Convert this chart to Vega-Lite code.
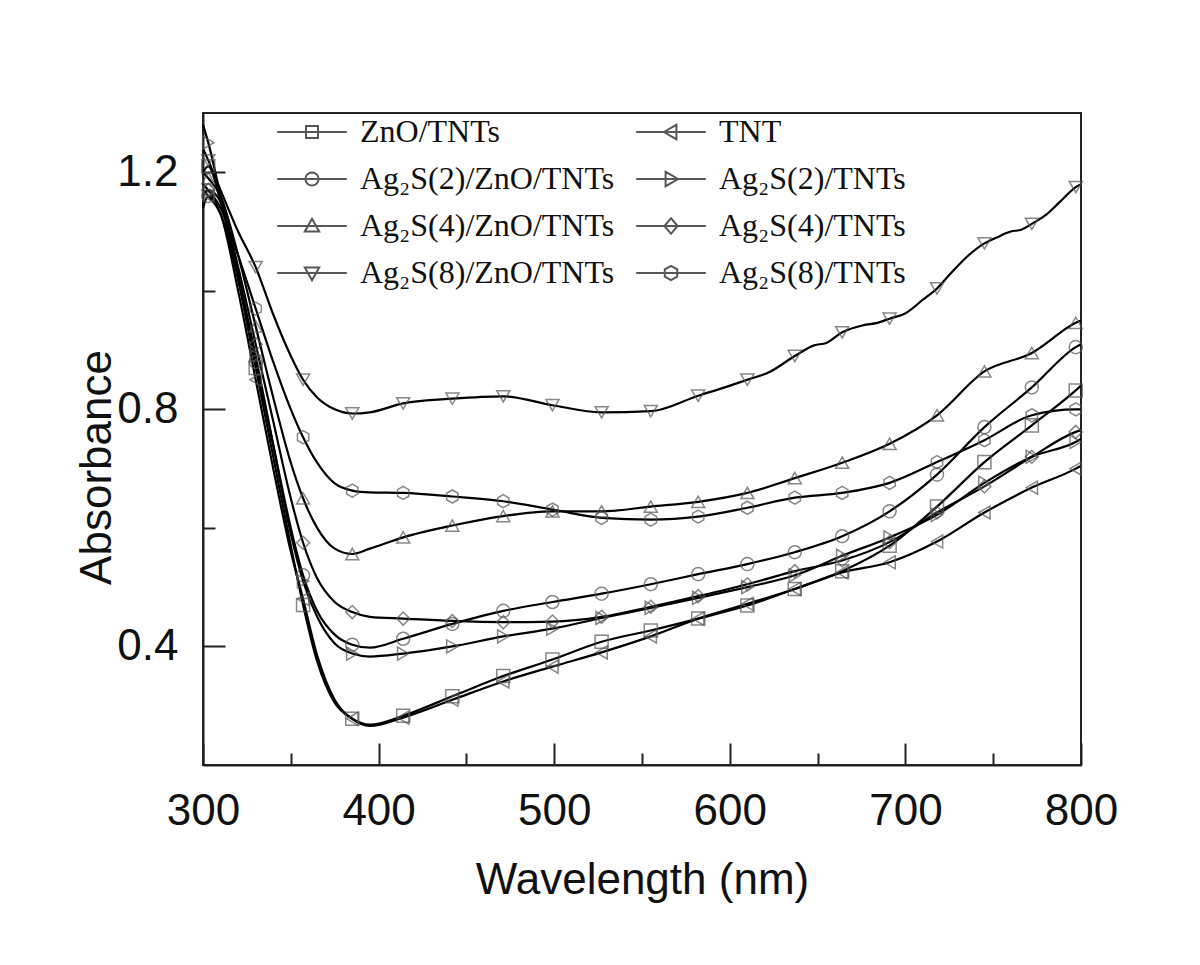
{
  "$schema": "https://vega.github.io/schema/vega-lite/v6.json",
  "width": 878,
  "height": 652,
  "autosize": {"type": "none"},
  "padding": {"left": 203, "top": 113, "right": 119, "bottom": 200},
  "background": "white",
  "config": {
    "view": {"stroke": "#222", "strokeWidth": 2},
    "axis": {"grid": false, "labelFont": "Liberation Sans", "titleFont": "Liberation Sans", "labelColor": "#111", "titleColor": "#111", "titleFontWeight": "normal", "tickColor": "#222", "domainColor": "#222"}
  },
  "datasets": {
    "curves": [
      {"s":"ZnO/TNTs","w":300,"a":1.20},{"s":"ZnO/TNTs","w":303,"a":1.21},{"s":"ZnO/TNTs","w":310,"a":1.15},{"s":"ZnO/TNTs","w":320,"a":1.02},{"s":"ZnO/TNTs","w":330,"a":0.87},{"s":"ZnO/TNTs","w":340,"a":0.72},{"s":"ZnO/TNTs","w":350,"a":0.57},{"s":"ZnO/TNTs","w":357,"a":0.47},{"s":"ZnO/TNTs","w":365,"a":0.375},{"s":"ZnO/TNTs","w":375,"a":0.305},{"s":"ZnO/TNTs","w":385,"a":0.278},{"s":"ZnO/TNTs","w":395,"a":0.268},{"s":"ZnO/TNTs","w":414,"a":0.283},{"s":"ZnO/TNTs","w":442,"a":0.316},{"s":"ZnO/TNTs","w":471,"a":0.35},{"s":"ZnO/TNTs","w":499,"a":0.378},{"s":"ZnO/TNTs","w":527,"a":0.408},{"s":"ZnO/TNTs","w":555,"a":0.427},{"s":"ZnO/TNTs","w":582,"a":0.447},{"s":"ZnO/TNTs","w":610,"a":0.469},{"s":"ZnO/TNTs","w":637,"a":0.497},{"s":"ZnO/TNTs","w":664,"a":0.527},{"s":"ZnO/TNTs","w":691,"a":0.57},{"s":"ZnO/TNTs","w":718,"a":0.636},{"s":"ZnO/TNTs","w":745,"a":0.711},{"s":"ZnO/TNTs","w":772,"a":0.773},{"s":"ZnO/TNTs","w":797,"a":0.832},{"s":"ZnO/TNTs","w":800,"a":0.84},

      {"s":"TNT","w":300,"a":1.14},{"s":"TNT","w":303,"a":1.16},{"s":"TNT","w":310,"a":1.13},{"s":"TNT","w":320,"a":1.00},{"s":"TNT","w":330,"a":0.85},{"s":"TNT","w":340,"a":0.70},{"s":"TNT","w":350,"a":0.56},{"s":"TNT","w":357,"a":0.48},{"s":"TNT","w":365,"a":0.385},{"s":"TNT","w":375,"a":0.31},{"s":"TNT","w":385,"a":0.278},{"s":"TNT","w":395,"a":0.266},{"s":"TNT","w":414,"a":0.28},{"s":"TNT","w":442,"a":0.31},{"s":"TNT","w":471,"a":0.341},{"s":"TNT","w":499,"a":0.366},{"s":"TNT","w":527,"a":0.39},{"s":"TNT","w":555,"a":0.417},{"s":"TNT","w":582,"a":0.447},{"s":"TNT","w":610,"a":0.472},{"s":"TNT","w":637,"a":0.497},{"s":"TNT","w":664,"a":0.525},{"s":"TNT","w":691,"a":0.542},{"s":"TNT","w":718,"a":0.577},{"s":"TNT","w":745,"a":0.626},{"s":"TNT","w":772,"a":0.668},{"s":"TNT","w":797,"a":0.70},{"s":"TNT","w":800,"a":0.705},

      {"s":"Ag₂S(2)/ZnO/TNTs","w":300,"a":1.17},{"s":"Ag₂S(2)/ZnO/TNTs","w":303,"a":1.16},{"s":"Ag₂S(2)/ZnO/TNTs","w":310,"a":1.13},{"s":"Ag₂S(2)/ZnO/TNTs","w":320,"a":1.02},{"s":"Ag₂S(2)/ZnO/TNTs","w":330,"a":0.88},{"s":"Ag₂S(2)/ZnO/TNTs","w":340,"a":0.74},{"s":"Ag₂S(2)/ZnO/TNTs","w":350,"a":0.60},{"s":"Ag₂S(2)/ZnO/TNTs","w":357,"a":0.52},{"s":"Ag₂S(2)/ZnO/TNTs","w":365,"a":0.46},{"s":"Ag₂S(2)/ZnO/TNTs","w":375,"a":0.42},{"s":"Ag₂S(2)/ZnO/TNTs","w":385,"a":0.403},{"s":"Ag₂S(2)/ZnO/TNTs","w":395,"a":0.398},{"s":"Ag₂S(2)/ZnO/TNTs","w":414,"a":0.413},{"s":"Ag₂S(2)/ZnO/TNTs","w":442,"a":0.438},{"s":"Ag₂S(2)/ZnO/TNTs","w":471,"a":0.46},{"s":"Ag₂S(2)/ZnO/TNTs","w":499,"a":0.475},{"s":"Ag₂S(2)/ZnO/TNTs","w":527,"a":0.489},{"s":"Ag₂S(2)/ZnO/TNTs","w":555,"a":0.505},{"s":"Ag₂S(2)/ZnO/TNTs","w":582,"a":0.522},{"s":"Ag₂S(2)/ZnO/TNTs","w":610,"a":0.539},{"s":"Ag₂S(2)/ZnO/TNTs","w":637,"a":0.559},{"s":"Ag₂S(2)/ZnO/TNTs","w":664,"a":0.586},{"s":"Ag₂S(2)/ZnO/TNTs","w":691,"a":0.628},{"s":"Ag₂S(2)/ZnO/TNTs","w":718,"a":0.69},{"s":"Ag₂S(2)/ZnO/TNTs","w":745,"a":0.77},{"s":"Ag₂S(2)/ZnO/TNTs","w":772,"a":0.837},{"s":"Ag₂S(2)/ZnO/TNTs","w":797,"a":0.905},{"s":"Ag₂S(2)/ZnO/TNTs","w":800,"a":0.91},

      {"s":"Ag₂S(2)/TNTs","w":300,"a":1.28},{"s":"Ag₂S(2)/TNTs","w":303,"a":1.25},{"s":"Ag₂S(2)/TNTs","w":310,"a":1.16},{"s":"Ag₂S(2)/TNTs","w":320,"a":1.03},{"s":"Ag₂S(2)/TNTs","w":330,"a":0.89},{"s":"Ag₂S(2)/TNTs","w":340,"a":0.74},{"s":"Ag₂S(2)/TNTs","w":350,"a":0.59},{"s":"Ag₂S(2)/TNTs","w":357,"a":0.51},{"s":"Ag₂S(2)/TNTs","w":365,"a":0.45},{"s":"Ag₂S(2)/TNTs","w":375,"a":0.405},{"s":"Ag₂S(2)/TNTs","w":385,"a":0.388},{"s":"Ag₂S(2)/TNTs","w":395,"a":0.383},{"s":"Ag₂S(2)/TNTs","w":414,"a":0.388},{"s":"Ag₂S(2)/TNTs","w":442,"a":0.40},{"s":"Ag₂S(2)/TNTs","w":471,"a":0.417},{"s":"Ag₂S(2)/TNTs","w":499,"a":0.43},{"s":"Ag₂S(2)/TNTs","w":527,"a":0.448},{"s":"Ag₂S(2)/TNTs","w":555,"a":0.465},{"s":"Ag₂S(2)/TNTs","w":582,"a":0.482},{"s":"Ag₂S(2)/TNTs","w":610,"a":0.50},{"s":"Ag₂S(2)/TNTs","w":637,"a":0.52},{"s":"Ag₂S(2)/TNTs","w":664,"a":0.553},{"s":"Ag₂S(2)/TNTs","w":691,"a":0.584},{"s":"Ag₂S(2)/TNTs","w":718,"a":0.622},{"s":"Ag₂S(2)/TNTs","w":745,"a":0.676},{"s":"Ag₂S(2)/TNTs","w":772,"a":0.72},{"s":"Ag₂S(2)/TNTs","w":797,"a":0.745},{"s":"Ag₂S(2)/TNTs","w":800,"a":0.75},

      {"s":"Ag₂S(4)/ZnO/TNTs","w":300,"a":1.20},{"s":"Ag₂S(4)/ZnO/TNTs","w":303,"a":1.19},{"s":"Ag₂S(4)/ZnO/TNTs","w":310,"a":1.16},{"s":"Ag₂S(4)/ZnO/TNTs","w":320,"a":1.06},{"s":"Ag₂S(4)/ZnO/TNTs","w":330,"a":0.94},{"s":"Ag₂S(4)/ZnO/TNTs","w":340,"a":0.82},{"s":"Ag₂S(4)/ZnO/TNTs","w":350,"a":0.71},{"s":"Ag₂S(4)/ZnO/TNTs","w":357,"a":0.65},{"s":"Ag₂S(4)/ZnO/TNTs","w":365,"a":0.60},{"s":"Ag₂S(4)/ZnO/TNTs","w":375,"a":0.565},{"s":"Ag₂S(4)/ZnO/TNTs","w":385,"a":0.556},{"s":"Ag₂S(4)/ZnO/TNTs","w":395,"a":0.565},{"s":"Ag₂S(4)/ZnO/TNTs","w":414,"a":0.584},{"s":"Ag₂S(4)/ZnO/TNTs","w":442,"a":0.604},{"s":"Ag₂S(4)/ZnO/TNTs","w":471,"a":0.62},{"s":"Ag₂S(4)/ZnO/TNTs","w":499,"a":0.628},{"s":"Ag₂S(4)/ZnO/TNTs","w":527,"a":0.628},{"s":"Ag₂S(4)/ZnO/TNTs","w":555,"a":0.636},{"s":"Ag₂S(4)/ZnO/TNTs","w":582,"a":0.644},{"s":"Ag₂S(4)/ZnO/TNTs","w":610,"a":0.659},{"s":"Ag₂S(4)/ZnO/TNTs","w":637,"a":0.684},{"s":"Ag₂S(4)/ZnO/TNTs","w":664,"a":0.71},{"s":"Ag₂S(4)/ZnO/TNTs","w":691,"a":0.742},{"s":"Ag₂S(4)/ZnO/TNTs","w":718,"a":0.79},{"s":"Ag₂S(4)/ZnO/TNTs","w":745,"a":0.864},{"s":"Ag₂S(4)/ZnO/TNTs","w":772,"a":0.895},{"s":"Ag₂S(4)/ZnO/TNTs","w":797,"a":0.946},{"s":"Ag₂S(4)/ZnO/TNTs","w":800,"a":0.95},

      {"s":"Ag₂S(4)/TNTs","w":300,"a":1.16},{"s":"Ag₂S(4)/TNTs","w":303,"a":1.17},{"s":"Ag₂S(4)/TNTs","w":310,"a":1.15},{"s":"Ag₂S(4)/TNTs","w":320,"a":1.04},{"s":"Ag₂S(4)/TNTs","w":330,"a":0.91},{"s":"Ag₂S(4)/TNTs","w":340,"a":0.78},{"s":"Ag₂S(4)/TNTs","w":350,"a":0.65},{"s":"Ag₂S(4)/TNTs","w":357,"a":0.575},{"s":"Ag₂S(4)/TNTs","w":365,"a":0.515},{"s":"Ag₂S(4)/TNTs","w":375,"a":0.475},{"s":"Ag₂S(4)/TNTs","w":385,"a":0.458},{"s":"Ag₂S(4)/TNTs","w":395,"a":0.45},{"s":"Ag₂S(4)/TNTs","w":414,"a":0.447},{"s":"Ag₂S(4)/TNTs","w":442,"a":0.443},{"s":"Ag₂S(4)/TNTs","w":471,"a":0.441},{"s":"Ag₂S(4)/TNTs","w":499,"a":0.442},{"s":"Ag₂S(4)/TNTs","w":527,"a":0.45},{"s":"Ag₂S(4)/TNTs","w":555,"a":0.467},{"s":"Ag₂S(4)/TNTs","w":582,"a":0.485},{"s":"Ag₂S(4)/TNTs","w":610,"a":0.505},{"s":"Ag₂S(4)/TNTs","w":637,"a":0.527},{"s":"Ag₂S(4)/TNTs","w":664,"a":0.545},{"s":"Ag₂S(4)/TNTs","w":691,"a":0.576},{"s":"Ag₂S(4)/TNTs","w":718,"a":0.626},{"s":"Ag₂S(4)/TNTs","w":745,"a":0.67},{"s":"Ag₂S(4)/TNTs","w":772,"a":0.72},{"s":"Ag₂S(4)/TNTs","w":797,"a":0.762},{"s":"Ag₂S(4)/TNTs","w":800,"a":0.765},

      {"s":"Ag₂S(8)/ZnO/TNTs","w":300,"a":1.24},{"s":"Ag₂S(8)/ZnO/TNTs","w":303,"a":1.22},{"s":"Ag₂S(8)/ZnO/TNTs","w":310,"a":1.17},{"s":"Ag₂S(8)/ZnO/TNTs","w":320,"a":1.10},{"s":"Ag₂S(8)/ZnO/TNTs","w":330,"a":1.04},{"s":"Ag₂S(8)/ZnO/TNTs","w":340,"a":0.96},{"s":"Ag₂S(8)/ZnO/TNTs","w":350,"a":0.89},{"s":"Ag₂S(8)/ZnO/TNTs","w":357,"a":0.85},{"s":"Ag₂S(8)/ZnO/TNTs","w":365,"a":0.82},{"s":"Ag₂S(8)/ZnO/TNTs","w":375,"a":0.80},{"s":"Ag₂S(8)/ZnO/TNTs","w":385,"a":0.793},{"s":"Ag₂S(8)/ZnO/TNTs","w":395,"a":0.795},{"s":"Ag₂S(8)/ZnO/TNTs","w":414,"a":0.81},{"s":"Ag₂S(8)/ZnO/TNTs","w":442,"a":0.818},{"s":"Ag₂S(8)/ZnO/TNTs","w":471,"a":0.822},{"s":"Ag₂S(8)/ZnO/TNTs","w":499,"a":0.807},{"s":"Ag₂S(8)/ZnO/TNTs","w":527,"a":0.795},{"s":"Ag₂S(8)/ZnO/TNTs","w":555,"a":0.797},{"s":"Ag₂S(8)/ZnO/TNTs","w":582,"a":0.823},{"s":"Ag₂S(8)/ZnO/TNTs","w":598,"a":0.838},{"s":"Ag₂S(8)/ZnO/TNTs","w":610,"a":0.85},{"s":"Ag₂S(8)/ZnO/TNTs","w":622,"a":0.862},{"s":"Ag₂S(8)/ZnO/TNTs","w":637,"a":0.89},{"s":"Ag₂S(8)/ZnO/TNTs","w":648,"a":0.908},{"s":"Ag₂S(8)/ZnO/TNTs","w":655,"a":0.912},{"s":"Ag₂S(8)/ZnO/TNTs","w":664,"a":0.93},{"s":"Ag₂S(8)/ZnO/TNTs","w":676,"a":0.942},{"s":"Ag₂S(8)/ZnO/TNTs","w":684,"a":0.946},{"s":"Ag₂S(8)/ZnO/TNTs","w":691,"a":0.953},{"s":"Ag₂S(8)/ZnO/TNTs","w":700,"a":0.962},{"s":"Ag₂S(8)/ZnO/TNTs","w":710,"a":0.985},{"s":"Ag₂S(8)/ZnO/TNTs","w":718,"a":1.004},{"s":"Ag₂S(8)/ZnO/TNTs","w":726,"a":1.03},{"s":"Ag₂S(8)/ZnO/TNTs","w":736,"a":1.06},{"s":"Ag₂S(8)/ZnO/TNTs","w":745,"a":1.08},{"s":"Ag₂S(8)/ZnO/TNTs","w":752,"a":1.09},{"s":"Ag₂S(8)/ZnO/TNTs","w":760,"a":1.10},{"s":"Ag₂S(8)/ZnO/TNTs","w":766,"a":1.103},{"s":"Ag₂S(8)/ZnO/TNTs","w":772,"a":1.113},{"s":"Ag₂S(8)/ZnO/TNTs","w":780,"a":1.128},{"s":"Ag₂S(8)/ZnO/TNTs","w":788,"a":1.15},{"s":"Ag₂S(8)/ZnO/TNTs","w":797,"a":1.175},{"s":"Ag₂S(8)/ZnO/TNTs","w":800,"a":1.18},

      {"s":"Ag₂S(8)/TNTs","w":300,"a":1.18},{"s":"Ag₂S(8)/TNTs","w":303,"a":1.17},{"s":"Ag₂S(8)/TNTs","w":310,"a":1.14},{"s":"Ag₂S(8)/TNTs","w":320,"a":1.06},{"s":"Ag₂S(8)/TNTs","w":330,"a":0.97},{"s":"Ag₂S(8)/TNTs","w":340,"a":0.88},{"s":"Ag₂S(8)/TNTs","w":350,"a":0.80},{"s":"Ag₂S(8)/TNTs","w":357,"a":0.753},{"s":"Ag₂S(8)/TNTs","w":365,"a":0.71},{"s":"Ag₂S(8)/TNTs","w":375,"a":0.675},{"s":"Ag₂S(8)/TNTs","w":385,"a":0.663},{"s":"Ag₂S(8)/TNTs","w":395,"a":0.66},{"s":"Ag₂S(8)/TNTs","w":414,"a":0.659},{"s":"Ag₂S(8)/TNTs","w":442,"a":0.653},{"s":"Ag₂S(8)/TNTs","w":471,"a":0.645},{"s":"Ag₂S(8)/TNTs","w":499,"a":0.631},{"s":"Ag₂S(8)/TNTs","w":527,"a":0.617},{"s":"Ag₂S(8)/TNTs","w":555,"a":0.614},{"s":"Ag₂S(8)/TNTs","w":582,"a":0.619},{"s":"Ag₂S(8)/TNTs","w":610,"a":0.634},{"s":"Ag₂S(8)/TNTs","w":637,"a":0.651},{"s":"Ag₂S(8)/TNTs","w":664,"a":0.659},{"s":"Ag₂S(8)/TNTs","w":691,"a":0.676},{"s":"Ag₂S(8)/TNTs","w":718,"a":0.711},{"s":"Ag₂S(8)/TNTs","w":745,"a":0.748},{"s":"Ag₂S(8)/TNTs","w":772,"a":0.79},{"s":"Ag₂S(8)/TNTs","w":797,"a":0.80},{"s":"Ag₂S(8)/TNTs","w":800,"a":0.80}
    ]
  },
  "data": {"name": "curves"},
  "layer": [
    {
      "mark": {"type": "line", "color": "#000", "strokeWidth": 2.2, "interpolate": "monotone"},
      "encoding": {
        "x": {"field": "w", "type": "quantitative", "scale": {"domain": [300, 800], "nice": false, "zero": false},
          "axis": {"orient": "bottom", "values": [300, 400, 500, 600, 700, 800], "tickSize": -22, "tickWidth": 2, "domainWidth": 2, "labelFontSize": 44, "labelPadding": 46, "labelFlush": false, "labelOverlap": false, "title": "Wavelength (nm)", "titleFontSize": 44, "titleX": 439, "titleY": 128, "titleBaseline": "alphabetic", "titleAlign": "center"}},
        "y": {"field": "a", "type": "quantitative", "scale": {"domain": [0.2, 1.3], "nice": false, "zero": false},
          "axis": {"orient": "left", "values": [0.4, 0.8, 1.2], "format": ".1f", "tickSize": -22, "tickWidth": 2, "domainWidth": 2, "labelFontSize": 44, "labelPadding": 47, "labelOverlap": false, "title": "Absorbance", "titleFontSize": 44, "titleX": -93, "titleY": 354, "titleAngle": -90, "titleBaseline": "alphabetic", "titleAlign": "center"}},
        "detail": {"field": "s", "type": "nominal"}
      }
    },
    {
      "transform": [{"filter": {"field": "w", "oneOf": [303, 330, 357, 385, 414, 442, 471, 499, 527, 555, 582, 610, 637, 664, 691, 718, 745, 772, 797]}}],
      "mark": {"type": "point", "filled": false, "color": "#555", "strokeWidth": 1.5, "size": 170},
      "encoding": {
        "x": {"field": "w", "type": "quantitative",
          "axis": {"orient": "bottom", "values": [350, 450, 550, 650, 750], "tickSize": -12, "tickWidth": 2, "labels": false, "domain": false, "title": null}},
        "y": {"field": "a", "type": "quantitative",
          "axis": {"orient": "left", "values": [0.6, 1.0], "tickSize": -12, "tickWidth": 2, "labels": false, "domain": false, "title": null}},
        "shape": {"field": "s", "type": "nominal", "legend": null,
          "scale": {"domain": ["ZnO/TNTs", "TNT", "Ag₂S(2)/ZnO/TNTs", "Ag₂S(2)/TNTs", "Ag₂S(4)/ZnO/TNTs", "Ag₂S(4)/TNTs", "Ag₂S(8)/ZnO/TNTs", "Ag₂S(8)/TNTs"],
            "range": ["square", "triangle-left", "circle", "triangle-right", "triangle-up", "diamond", "triangle-down", "M0,-1L0.87,-0.5V0.5L0,1L-0.87,0.5V-0.5Z"]}}
      }
    },
    {
      "transform": [{"filter": "false"}],
      "mark": {"type": "point", "filled": false, "color": "#111", "strokeWidth": 2, "size": 576},
      "encoding": {
        "x": {"field": "w", "type": "quantitative", "axis": null},
        "y": {"field": "a", "type": "quantitative", "axis": null},
        "shape": {"field": "s", "type": "nominal",
          "scale": {"domain": ["ZnO/TNTs", "TNT", "Ag₂S(2)/ZnO/TNTs", "Ag₂S(2)/TNTs", "Ag₂S(4)/ZnO/TNTs", "Ag₂S(4)/TNTs", "Ag₂S(8)/ZnO/TNTs", "Ag₂S(8)/TNTs"],
            "range": [
              "M-2.9,0H2.9M-0.5,-0.5H0.5V0.5H-0.5Z",
              "M-2.9,0H2.9M-0.6,0L0.45,-0.6V0.6Z",
              "M-2.9,0H2.9M-0.55,0A0.55,0.55,0,1,0,0.55,0A0.55,0.55,0,1,0,-0.55,0Z",
              "M-2.9,0H2.9M0.6,0L-0.45,-0.6V0.6Z",
              "M-2.9,0H2.9M0,-0.6L0.6,0.45H-0.6Z",
              "M-2.9,0H2.9M0,-0.65L0.55,0L0,0.65L-0.55,0Z",
              "M-2.9,0H2.9M0,0.6L0.6,-0.45H-0.6Z",
              "M-2.9,0H2.9M0,-0.6L0.52,-0.3V0.3L0,0.6L-0.52,0.3V-0.3Z"
            ]},
          "legend": {"orient": "none", "legendX": 93, "legendY": 3, "columns": 2, "direction": "horizontal", "title": null, "padding": 0,
            "symbolSize": 576, "symbolStrokeWidth": 2, "symbolStrokeColor": "#111", "symbolFillColor": "transparent",
            "labelFont": "Liberation Serif", "labelFontSize": 32, "labelColor": "#111", "labelOffset": 32, "labelLimit": 500,
            "rowPadding": 15, "columnPadding": 17}}
      }
    }
  ],
  "resolve": {"scale": {"shape": "independent"}, "axis": {"x": "independent", "y": "independent"}}
}
